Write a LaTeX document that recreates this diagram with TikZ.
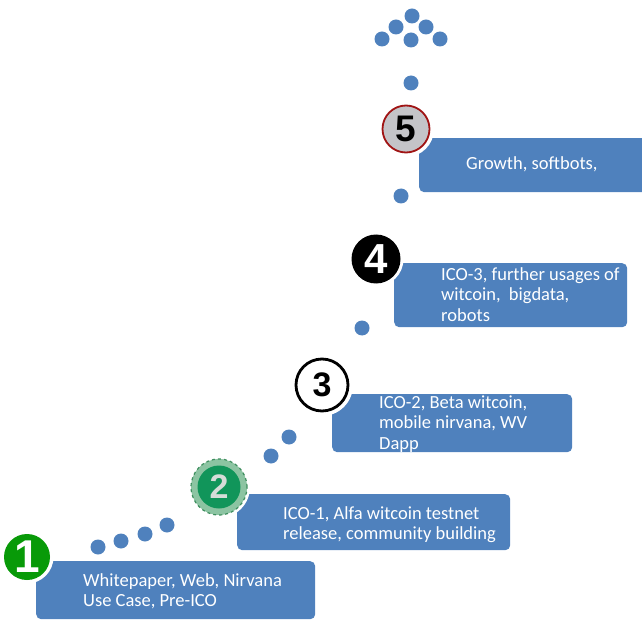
\documentclass[tikz,border=0pt]{standalone}
\usepackage{fontspec}
\setmainfont{Carlito}
\newfontfamily\numfont{Liberation Sans}
\definecolor{boxblue}{HTML}{4F81BD}
\definecolor{grnone}{HTML}{089A08}
\definecolor{grnring}{HTML}{8CC4A2}
\definecolor{grnedge}{HTML}{3E8E5E}
\definecolor{grntwo}{HTML}{11955A}
\definecolor{silver}{HTML}{D6DCD8}
\definecolor{grayfive}{HTML}{C4C4C8}
\definecolor{redfive}{HTML}{A01414}
\tikzset{
  box/.style={fill=boxblue, rounded corners=5pt, inner sep=0pt, anchor=north west},
  dot/.style={circle, fill=boxblue, minimum size=15pt, inner sep=0pt},
  txt/.style={text=white, inner sep=0pt, anchor=base west, font=\fontsize{18.5}{20.5}\selectfont},
  numc/.style={circle, inner sep=0pt, font=\numfont\bfseries},
}
\begin{document}
\begin{tikzpicture}[x=1pt,y=-1pt]
\clip (0,0) rectangle (642,620);
\useasboundingbox (0,0) rectangle (642,620);

% boxes
\node[box, minimum width=279pt, minimum height=58pt] (b1) at (36,561) {};
\node[box, minimum width=273pt, minimum height=56pt] (b2) at (237,494) {};
\node[box, minimum width=240pt, minimum height=58pt] (b3) at (332,394) {};
\node[box, minimum width=233pt, minimum height=64pt] (b4) at (394,263) {};
\node[box, minimum width=240pt, minimum height=54pt] (b5) at (419,138) {};

% texts
\node[txt] (t1) at (83,586) {\vtop{\hbox{Whitepaper, Web, Nirvana}\hbox{Use Case, Pre-ICO}}};
\node[txt] (t2) at (283,519) {\vtop{\hbox{ICO-1, Alfa witcoin testnet}\hbox{release, community building}}};
\node[txt] (t3) at (379,408) {\vtop{\hbox{ICO-2, Beta witcoin,}\hbox{mobile nirvana, WV}\hbox{Dapp}}};
\node[txt] (t4) at (441,280) {\vtop{\hbox{ICO-3, further usages of}\hbox{witcoin,\ \ bigdata,}\hbox{robots}}};
\node[txt] (t5) at (466,170) {Growth, softbots,};

% dots
\node[dot] (d1) at (98,547) {};
\node[dot] (d2) at (121,541) {};
\node[dot] (d3) at (145,534) {};
\node[dot] (d4) at (167,525) {};
\node[dot] (d5) at (271,456) {};
\node[dot] (d6) at (289,437) {};
\node[dot] (d7) at (362,328) {};
\node[dot] (d8) at (401,196) {};
\node[dot] (d9) at (411,83) {};
\node[dot] (u1) at (412,16) {};
\node[dot] (u2) at (396,27) {};
\node[dot] (u3) at (426,27) {};
\node[dot] (u4) at (382,39) {};
\node[dot] (u5) at (411,40) {};
\node[dot] (u6) at (440,39) {};

% number circles
% 1
\node[numc, fill=white, minimum size=53pt] (w1) at (27,557) {};
\node[numc, fill=grnone, minimum size=46pt, text=white, font=\numfont\bfseries\fontsize{46}{46}\selectfont] (c1) at (27,557) {1};
% 2
\node[numc, fill=white, minimum size=62pt] (w2) at (219,487) {};
\node[numc, fill=grnring, draw=grnedge, dashed, line width=1.2pt, minimum size=56pt] (r2) at (219,487) {};
\node[numc, fill=grntwo, minimum size=43pt, text=silver, font=\numfont\bfseries\fontsize{34}{34}\selectfont] (c2) at (219,487) {2};
% 3
\node[numc, fill=white, minimum size=62pt] (w3) at (322,385) {};
\node[numc, fill=white, draw=black, line width=2.8pt, minimum size=52pt, font=\numfont\bfseries\fontsize{34}{34}\selectfont] (c3) at (322,385) {3};
% 4
\node[numc, fill=white, minimum size=55pt] (w4) at (376,259) {};
\node[numc, fill=black, minimum size=49pt, text=white, font=\numfont\bfseries\fontsize{42}{42}\selectfont] (c4) at (376,259) {4};
% 5
\node[numc, fill=white, minimum size=56pt] (w5) at (406,129) {};
\node[numc, fill=grayfive, draw=redfive, line width=1.8pt, minimum size=47pt, font=\numfont\bfseries\fontsize{37}{37}\selectfont] (c5) at (406,129) {5};
\end{tikzpicture}
\end{document}
